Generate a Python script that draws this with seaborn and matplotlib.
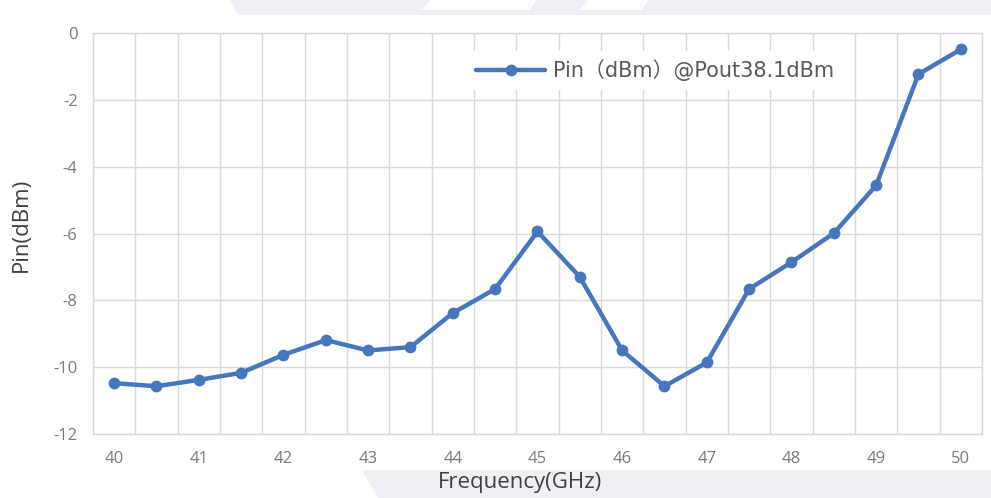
"""
Pin vs frequency at Pout 38.1 dBm, redrawn in seaborn
"""

import matplotlib
matplotlib.use("Agg")
import matplotlib.pyplot as plt
from matplotlib.patches import Polygon
import numpy as np
import pandas as pd
import seaborn as sns

# ── Data ───────────────────────────────────────────────────────────────────────
FREQ_GHZ = [40, 40.5, 41, 41.5, 42, 42.5, 43, 43.5, 44, 44.5, 45,
            45.5, 46, 46.5, 47, 47.5, 48, 48.5, 49, 49.5, 50]
PIN_DBM = [-10.48, -10.57, -10.38, -10.17, -9.63, -9.19, -9.50, -9.40, -8.38, -7.66, -5.94,
           -7.30, -9.50, -10.57, -9.86, -7.66, -6.86, -5.99, -4.56, -1.23, -0.49]
X_TICKS = [40, 41, 42, 43, 44, 45, 46, 47, 48, 49, 50]
Y_TICKS = [0, -2, -4, -6, -8, -10, -12]
SERIES_LABEL = "Pin（dBm）@Pout38.1dBm"

LINE_COLOR = "#4677BE"
GRID_COLOR = "#D9D9D9"
TICK_COLOR = "#7A7A7A"
LABEL_COLOR = "#404040"

# ── Style ──────────────────────────────────────────────────────────────────────
sns.set_theme(style="white")
plt.rcParams["font.family"] = ["Open Sans", "Noto Sans CJK SC", "DejaVu Sans"]
plt.rcParams["axes.unicode_minus"] = False

df = pd.DataFrame({"freq": FREQ_GHZ, "pin": PIN_DBM})

fig = plt.figure(figsize=(9.91, 4.98), dpi=100)
fig.patch.set_facecolor("white")

# faint page-background bands (top and bottom), as in the screenshot
band = "#EEF0F5"
bands = [
    ([[230, 498], [991, 498], [991, 483], [238, 483]], band),
    ([[362, 28], [991, 28], [991, 0], [378, 0]], band),
    ([[430, 498], [536, 498], [530, 488], [422, 488]], "white"),
    ([[588, 498], [648, 498], [642, 488], [580, 488]], "white"),
]
for pts, col in bands:
    fig.patches.append(Polygon(pts, closed=True, transform=None, facecolor=col,
                               edgecolor="none", zorder=-5))

ax = fig.add_axes([93 / 991, 1 - 434 / 498, (982 - 93) / 991, (434 - 33) / 498])
ax.set_facecolor("white")

sns.lineplot(data=df, x="freq", y="pin", ax=ax, color=LINE_COLOR, linewidth=3.2,
             marker="o", markersize=8.5, markeredgewidth=0, label=SERIES_LABEL,
             zorder=3)

# ── Axes ───────────────────────────────────────────────────────────────────────
ax.set_xlim(39.75, 50.25)
ax.set_ylim(-12, 0)
ax.set_xticks(X_TICKS)
ax.set_xticks(np.arange(39.75, 50.26, 0.5), minor=True)
ax.set_yticks(Y_TICKS)
ax.set_yticklabels([str(v) for v in Y_TICKS])
ax.grid(False)
ax.grid(True, which="minor", axis="x", color=GRID_COLOR, linewidth=1)
ax.grid(True, which="major", axis="y", color=GRID_COLOR, linewidth=1)
ax.tick_params(axis="both", which="both", length=0, colors=TICK_COLOR, labelsize=12)
ax.tick_params(axis="x", pad=12)
ax.tick_params(axis="y", pad=11)
for s in ax.spines.values():
    s.set_color(GRID_COLOR)
    s.set_linewidth(1)

ax.set_xlabel("Frequency(GHz)", fontsize=16, color=LABEL_COLOR)
ax.set_ylabel("Pin(dBm)", fontsize=16, color=LABEL_COLOR)
ax.xaxis.set_label_coords((520 - 93) / 889, -(472 - 434) / 401)
ax.yaxis.set_label_coords(-(93 - 32) / 889, (434 - 225) / 401)

leg = ax.legend(loc="center left", bbox_to_anchor=((468 - 93) / 889, (434 - 70) / 401),
                frameon=True, prop={"family": ["DejaVu Sans", "Noto Sans CJK SC"], "size": 15},
                handlelength=3.3, handletextpad=0.4, borderpad=0.4,
                fancybox=False, borderaxespad=0)
leg.get_frame().set_facecolor("white")
leg.get_frame().set_edgecolor("white")
leg.get_frame().set_alpha(1)
for t in leg.get_texts():
    t.set_color("#595959")

plt.savefig("out.png", dpi=100)
